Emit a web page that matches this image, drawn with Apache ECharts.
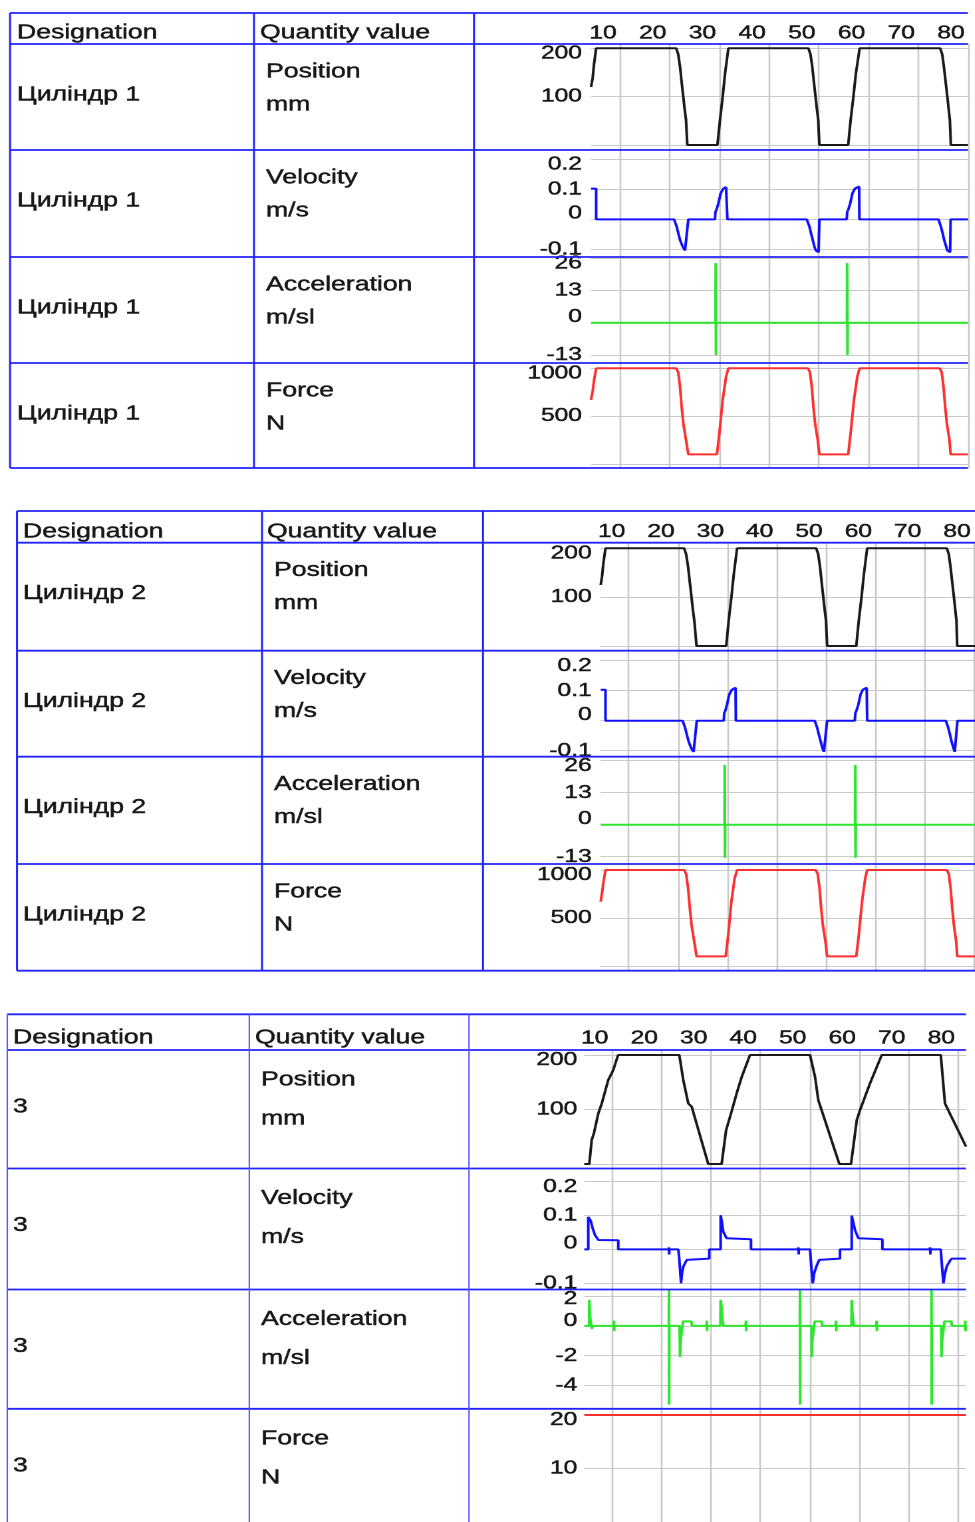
<!DOCTYPE html>
<html>
<head>
<meta charset="utf-8">
<script src="https://cdn.jsdelivr.net/npm/echarts@6/dist/echarts.min.js"></script>
<style>
  html, body { margin: 0; padding: 0; background: #ffffff; overflow: hidden; }
  #chart { height: 1522px; transform-origin: 0 0; }
</style>
</head>
<body>
<div id="chart"></div>
<script>
// ---- labels ----
const designations = ['Циліндр 1', 'Циліндр 2', '3'];
const quantities = ['Position', 'Velocity', 'Acceleration', 'Force'];
const units = ['mm', 'm/s', 'm/sl', 'N'];
const headerLabels = ['Designation', 'Quantity value'];

// ---- tick labels ----
const timeTicks = [10, 20, 30, 40, 50, 60, 70, 80];
const posTicks = [0, 100, 200];
const posLabels = [100, 200];
const velTicks = [-0.1, 0, 0.1, 0.2];
const accTicksA = [-13, 0, 13, 26];
const accTicksB = [-4, -2, 0, 2];
const forceTicksA = [0, 500, 1000];
const forceLabelsA = [500, 1000];
const forceTicksB = [0, 10, 20];
const forceLabelsB = [10, 20];

// ---- Cylinder 1 ----
const pos1 = [[4.17,120],[4.5,138],[4.75,165],[5.2,200],[21.3,200],[21.7,188],[22.07,162],[22.4,130],[22.74,99],[23.0,75],[23.28,52],[23.54,0],
  [29.6,0],[30.12,52],[30.66,100],[31.13,148],[31.8,200],[47.9,200],[48.3,188],[48.67,162],[49.0,130],[49.34,99],[49.6,75],[49.88,52],[50.1,0],
  [55.9,0],[56.4,52],[56.95,100],[57.45,148],[58.2,200],[74.4,200],[74.8,188],[75.15,162],[75.5,130],[75.85,99],[76.1,75],[76.35,52],[76.55,0],[80,0]];
const vel1 = [[4.17,0.103],[5.2,0.103],[5.2,0],[20.87,0],[21.4,-0.024],[21.74,-0.047],[22.08,-0.069],[22.61,-0.091],[23.08,-0.104],[23.41,-0.108],[23.6,-0.11],[23.74,0],
  [29.1,0],[29.2,0.025],[29.4,0.032],[29.78,0.053],[30.25,0.087],[30.79,0.103],[31.33,0.108],[31.55,0.11],[31.6,0],
  [47.56,0],[48.1,-0.024],[48.43,-0.047],[48.77,-0.069],[49.1,-0.091],[49.4,-0.104],[49.6,-0.108],[49.95,-0.11],[50.1,0],
  [55.6,0],[55.7,0.025],[55.9,0.032],[56.3,0.053],[56.75,0.087],[57.25,0.103],[57.75,0.108],[58.1,0.11],[58.15,0],
  [74.05,0],[74.55,-0.024],[74.9,-0.047],[75.2,-0.069],[75.6,-0.091],[75.85,-0.104],[76.06,-0.108],[76.4,-0.11],[76.5,0],[80,0]];
const acc1 = [[4.17,0],[4.3,0.6],[4.4,0],[21.0,0],[21.1,-0.6],[21.2,0],[23.6,0],[23.7,0.6],[23.8,0],[29.2,0],[29.25,24.1],[29.3,-13],[29.35,0],
  [31.6,0],[31.7,0.6],[31.8,0],[47.7,0],[47.8,-0.6],[47.9,0],[50.0,0],[50.1,0.6],[50.2,0],[55.65,0],[55.7,24.1],[55.75,-13],[55.8,0],
  [58.1,0],[58.2,0.6],[58.3,0],[74.2,0],[74.3,-0.6],[74.4,0],[76.4,0],[76.5,0.6],[76.6,0],[80,0]];
const force1 = [[4.17,670],[4.5,760],[4.8,880],[5.2,1000],[21.3,1000],[21.7,960],[22.07,809],[22.4,600],[22.74,425],[23.28,251],[23.74,100],
  [29.5,100],[29.99,321],[30.66,669],[31.33,912],[31.8,1000],[47.8,1000],[48.2,960],[48.57,809],[48.9,600],[49.24,425],[49.78,251],[50.1,100],
  [55.9,100],[56.39,321],[57.06,669],[57.73,912],[58.2,1000],[74.3,1000],[74.7,960],[75.07,809],[75.4,600],[75.74,425],[76.28,251],[76.5,100],[80,100]];

// ---- Cylinder 2 ----
const pos2 = [[4.33,125],[4.6,142],[4.85,168],[5.3,200],[21.2,200],[21.6,188],[22.0,162],[22.35,130],[22.7,99],[22.95,75],[23.25,52],[23.7,0],
  [29.7,0],[30.2,52],[30.75,100],[31.25,148],[31.9,200],[47.9,200],[48.3,188],[48.67,162],[49.0,130],[49.34,99],[49.6,75],[49.88,52],[50.1,0],
  [56.0,0],[56.5,52],[57.05,100],[57.55,148],[58.2,200],[74.3,200],[74.7,188],[75.05,162],[75.4,130],[75.75,99],[76.0,75],[76.25,52],[76.4,0],[80,0]];
const vel2 = [[4.33,0.103],[5.3,0.103],[5.3,0],[20.9,0],[21.4,-0.024],[21.75,-0.047],[22.1,-0.069],[22.6,-0.091],[23.1,-0.104],[23.4,-0.108],[23.6,-0.11],[23.75,0],
  [29.2,0],[29.3,0.025],[29.5,0.032],[29.85,0.053],[30.3,0.087],[30.85,0.103],[31.35,0.108],[31.6,0.11],[31.65,0],
  [47.6,0],[48.1,-0.024],[48.45,-0.047],[48.8,-0.069],[49.15,-0.091],[49.45,-0.104],[49.65,-0.108],[49.95,-0.11],[50.1,0],
  [55.7,0],[55.8,0.025],[56.0,0.032],[56.4,0.053],[56.85,0.087],[57.3,0.103],[57.8,0.108],[58.1,0.11],[58.2,0],
  [74.1,0],[74.6,-0.024],[74.95,-0.047],[75.25,-0.069],[75.65,-0.091],[75.9,-0.104],[76.1,-0.108],[76.35,-0.11],[76.45,0],[80,0]];
const acc2 = [[4.33,0],[4.4,0.6],[4.5,0],[21.0,0],[21.1,-0.6],[21.2,0],[23.6,0],[23.7,0.6],[23.8,0],[29.35,0],[29.4,24.3],[29.45,-13.5],[29.5,0],
  [31.7,0],[31.8,0.6],[31.9,0],[47.7,0],[47.8,-0.6],[47.9,0],[50.0,0],[50.1,0.6],[50.2,0],[55.75,0],[55.8,24.3],[55.85,-13.5],[55.9,0],
  [58.1,0],[58.2,0.6],[58.3,0],[74.2,0],[74.3,-0.6],[74.4,0],[76.4,0],[76.5,0.6],[76.6,0],[80,0]];
const force2 = [[4.33,670],[4.6,760],[4.9,880],[5.3,1000],[21.2,1000],[21.6,960],[22.0,809],[22.35,600],[22.7,425],[23.25,251],[23.7,100],
  [29.6,100],[30.1,321],[30.75,669],[31.4,912],[31.9,1000],[47.8,1000],[48.2,960],[48.57,809],[48.9,600],[49.24,425],[49.78,251],[50.1,100],
  [56.0,100],[56.5,321],[57.15,669],[57.8,912],[58.2,1000],[74.3,1000],[74.7,960],[75.07,809],[75.4,600],[75.74,425],[76.2,251],[76.4,100],[80,100]];

// ---- Element 3 ----
const pos3 = [[4.47,0],[5.48,0],[5.96,44],[6.4,56],[7.3,93],[8.0,111],[9.3,154],[10.3,172],[11.3,200],
  [23.65,200],[24.46,154],[25.47,111],[26.16,105],[29.5,0],[32.2,0],[33.1,62],[34.2,96],[35.25,130],[36.26,160],[37.93,200],
  [50.05,200],[51.06,160],[51.73,117],[55.97,0],[58.33,0],[59.5,81],[60.15,99],[62.17,148],[64.53,200],
  [76.45,200],[77.3,111],[81.55,32]];
const vel3 = [[4.47,0],[5.27,0],[5.27,0.096],[5.5,0.096],[5.76,0.085],[6.16,0.062],[6.63,0.042],[7.3,0.028],[11.33,0.027],[11.33,0],
  [21.5,0],[21.55,0.006],[21.6,-0.015],[21.65,0],[23.45,0],[23.66,-0.03],[23.85,-0.07],[24.0,-0.1],[24.2,-0.07],[24.46,-0.051],[25.15,-0.031],[25.5,-0.027],[29.7,-0.027],[29.7,0],
  [32.0,0],[32.0,0.101],[32.2,0.085],[32.54,0.052],[33.2,0.033],[33.5,0.03],[38.13,0.03],[38.13,0],
  [47.65,0],[47.7,0.006],[47.75,-0.015],[47.8,0],[50.05,0],[50.3,-0.05],[50.6,-0.1],[50.9,-0.07],[51.4,-0.048],[51.9,-0.031],[52.2,-0.027],[56.1,-0.027],[56.1,0],
  [58.47,0],[58.47,0.1],[58.7,0.085],[59.14,0.057],[59.8,0.033],[60.2,0.03],[64.66,0.03],[64.66,0],
  [74.25,0],[74.3,0.006],[74.35,-0.015],[74.4,0],[76.45,0],[76.7,-0.05],[76.98,-0.1],[77.3,-0.07],[77.66,-0.05],[78.33,-0.033],[78.7,-0.027],[81.55,-0.027]];
const acc3 = [[4.47,0],[5.45,0],[5.48,1.74],[5.6,0.7],[5.8,0.2],[6.0,-0.2],[6.2,0],[10.4,0],[10.45,0.35],[10.5,-0.35],[10.55,0],
  [21.55,0],[21.57,2.4],[21.6,-5.28],[21.63,0],[23.7,0],[23.8,-2.09],[23.9,-1.0],[24.1,-0.5],[24.4,0.3],[26.1,0.3],[26.2,0],
  [29.15,0],[29.2,0.35],[29.25,-0.35],[29.3,0],[31.95,0],[32.0,1.74],[32.2,1.2],[32.4,0.3],[32.6,0],[37.05,0],[37.1,0.35],[37.15,-0.35],[37.2,0],
  [48.0,0],[48.03,2.4],[48.06,-5.28],[48.09,0],[50.35,0],[50.4,-2.1],[50.5,-1.0],[50.7,-0.5],[51.0,0.3],[52.4,0.3],[52.5,0],
  [55.25,0],[55.3,0.35],[55.35,-0.35],[55.4,0],[58.42,0],[58.47,1.74],[58.6,0.9],[58.8,0.2],[59.0,0],[63.45,0],[63.5,0.35],[63.55,-0.35],[63.6,0],
  [74.55,0],[74.58,2.4],[74.61,-5.28],[74.64,0],[76.55,0],[76.6,-2.1],[76.7,-1.0],[76.9,-0.5],[77.2,0.3],[78.6,0.3],[78.7,0],
  [81.35,0],[81.4,0.35],[81.45,-0.35],[81.55,0]];
const force3 = [[4.47,20],[81.55,20]];

// ---- layout (page pixels; the drawing is stretched horizontally by S) ----
const S = 1.33;
const W = 975 / S;
const FONT = '"Liberation Sans", Arial, sans-serif';
const TEXT = '#181818';
const GRIDC = '#c9c9c9';
const BLUE = '#2323ff';
const seriesColors = ['#1a1a1a', '#1010ff', '#2ee62e', '#ff3030'];

const tables = [
  { left: 10, right: 968, top: 13, rows: [44, 150, 257, 363, 468], c1: 254, c2: 474,
    plotL: 591, plotR: 968, xMin: 4.17, xMax: 80,
    ys: [[48.3, 145], [159.6, 249.3], [258.4, 355], [368.3, 464]],
    hdrY: 33, desX: 17, qvX: 260, nameX: 266, desDy: 51, nameDy: 28, unitDy: 61,
    xMargin: 1, yMargin: 9, topPad: 10, zeroPad: 12, vLine: { c: BLUE, w: 1.5 } },
  { left: 17, right: 985, top: 511, rows: [542.7, 650.7, 756.7, 864, 970.7], c1: 262, c2: 483,
    plotL: 600.7, plotR: 978.3, xMin: 4.33, xMax: 80,
    ys: [[548.3, 646], [660.7, 750.7], [760.7, 856.7], [870, 966]],
    hdrY: 532, desX: 23, qvX: 267, nameX: 274, desDy: 51, nameDy: 28, unitDy: 61,
    xMargin: 1.5, yMargin: 9, topPad: 10, zeroPad: 12, vLine: { c: BLUE, w: 1.5 } },
  { left: 7.3, right: 966, top: 1014.3, rows: [1050, 1168.5, 1289.5, 1408.8, 1540], c1: 249.3, c2: 469,
    plotL: 584.3, plotR: 966, xMin: 4.47, xMax: 81.55,
    ys: [[1055, 1164], [1181.7, 1283.3], [1296, 1385.5], [1415, 1523]],
    hdrY: 1038, desX: 13, qvX: 255, nameX: 261, desDy: 57, nameDy: 30, unitDy: 69,
    xMargin: 2, yMargin: 7, topPad: 10, zeroPad: 12, accTopPad: 6, accZeroPad: 10,
    vLine: { c: '#5a5aff', w: 1.1 } }
];

const tableData = [
  [pos1, vel1, acc1, force1],
  [pos2, vel2, acc2, force2],
  [pos3, vel3, acc3, force3]
];

const axisSetA = [
  { min: 0, max: 200, ticks: posTicks, labels: posLabels },
  { min: -0.1, max: 0.2, ticks: velTicks, labels: velTicks },
  { min: -13, max: 26, ticks: accTicksA, labels: accTicksA },
  { min: 0, max: 1000, ticks: forceTicksA, labels: forceLabelsA }
];
const axisSetB = [
  { min: 0, max: 200, ticks: posTicks, labels: posLabels },
  { min: -0.1, max: 0.2, ticks: velTicks, labels: velTicks },
  { min: -4, max: 2, ticks: accTicksB, labels: accTicksB },
  { min: 0, max: 20, ticks: forceTicksB, labels: forceLabelsB }
];
const axisSets = [axisSetA, axisSetA, axisSetB];

const el = document.getElementById('chart');
el.style.width = W + 'px';
el.style.transform = 'scaleX(' + S + ')';
const chart = echarts.init(el, null, { renderer: 'canvas', width: W, height: 1522, devicePixelRatio: 2 });

const grids = [], xAxes = [], yAxes = [], series = [], graphics = [];
const labelStyle = { color: TEXT, fontFamily: FONT, fontSize: 18.5, textBorderColor: TEXT, textBorderWidth: 0.45 };

function hLine(x1, x2, y, c, w) {
  graphics.push({ type: 'line', z: 50, silent: true,
    shape: { x1: x1 / S, y1: y, x2: x2 / S, y2: y }, style: { stroke: c, lineWidth: w } });
}
function vLine(x, y1, y2, c, w) {
  graphics.push({ type: 'line', z: 50, silent: true,
    shape: { x1: x / S, y1: y1, x2: x / S, y2: y2 }, style: { stroke: c, lineWidth: w } });
}
function label(text, x, y) {
  graphics.push({ type: 'text', z: 60, silent: true, x: x / S, y: y,
    style: { text: text, fill: TEXT, stroke: TEXT, lineWidth: 0.45, font: '20px ' + FONT,
      textVerticalAlign: 'middle', textAlign: 'left' } });
}
function numText(v) {
  return String(Math.round(v * 1e6) / 1e6);
}

tables.forEach((t, ti) => {
  const left = t.plotL / S, width = (t.plotR - t.plotL) / S;
  const bottom = t.rows[4];

  // time grid spanning the rows: vertical grid lines and the time labels in the header
  const gb = grids.length;
  grids.push({ left: left, width: width, top: t.rows[0], height: bottom - t.rows[0] });
  xAxes.push({ gridIndex: gb, type: 'value', position: 'top', min: t.xMin, max: t.xMax,
    axisLine: { show: false },
    axisTick: { show: false, customValues: timeTicks },
    axisLabel: Object.assign({ customValues: timeTicks, align: 'right', padding: [0, 2.5, 0, 0],
      margin: t.xMargin, formatter: numText, showMinLabel: true, showMaxLabel: true }, labelStyle),
    splitLine: { show: true, lineStyle: { color: GRIDC, width: 1.3 } } });
  yAxes.push({ gridIndex: gb, type: 'value', show: false, min: 0, max: 1 });

  // one chart per row
  for (let r = 0; r < 4; r++) {
    const a = axisSets[ti][r];
    const gi = grids.length;
    const [yTop, yBot] = t.ys[r];
    const topLabel = a.labels[a.labels.length - 1];
    const zp = (r === 2 && t.accZeroPad) ? t.accZeroPad : t.zeroPad;
    const tp = (r === 2 && t.accTopPad) ? t.accTopPad : t.topPad;
    grids.push({ left: left, width: width, top: yTop, height: yBot - yTop });
    xAxes.push({ gridIndex: gi, type: 'value', show: false, min: t.xMin, max: t.xMax, splitLine: { show: false } });
    yAxes.push({ gridIndex: gi, type: 'value', min: a.min, max: a.max,
      axisLine: { show: false },
      axisTick: { show: false, customValues: a.ticks },
      axisLabel: Object.assign({
        customValues: a.labels, margin: t.yMargin / S,
        showMinLabel: true, showMaxLabel: true, hideOverlap: false,
        formatter: v => {
          const s = numText(v);
          if (v === topLabel) return '{t|' + s + '}';
          if (v === 0) return '{z|' + s + '}';
          return s;
        },
        rich: {
          t: Object.assign({ padding: [tp, 0, 0, 0] }, labelStyle),
          z: Object.assign({ padding: [0, 0, zp, 0] }, labelStyle)
        }
      }, labelStyle),
      splitLine: { show: true, lineStyle: { color: GRIDC, width: 1 } } });
    series.push({ type: 'line', xAxisIndex: gi, yAxisIndex: gi, data: tableData[ti][r],
      showSymbol: false, symbol: 'none', clip: false, silent: true, animation: false,
      lineStyle: { color: seriesColors[r], width: 2 } });
  }

  // table borders
  const hy = [t.top].concat(t.rows);
  hy.forEach(y => hLine(t.left, t.right, y, BLUE, 1.8));
  vLine(t.left, t.top, bottom, t.vLine.c, t.vLine.w);
  vLine(t.c1, t.top, bottom, t.vLine.c, t.vLine.w);
  vLine(t.c2, t.top, bottom, t.vLine.c, t.vLine.w);

  // table text
  label(headerLabels[0], t.desX, t.hdrY);
  label(headerLabels[1], t.qvX, t.hdrY);
  for (let r = 0; r < 4; r++) {
    const rt = t.rows[r];
    label(designations[ti], t.desX, rt + t.desDy);
    label(quantities[r], t.nameX, rt + t.nameDy);
    label(units[r], t.nameX, rt + t.unitDy);
  }
});

chart.setOption({
  animation: false,
  backgroundColor: '#ffffff',
  grid: grids,
  xAxis: xAxes,
  yAxis: yAxes,
  series: series,
  graphic: graphics
});
</script>
</body>
</html>
